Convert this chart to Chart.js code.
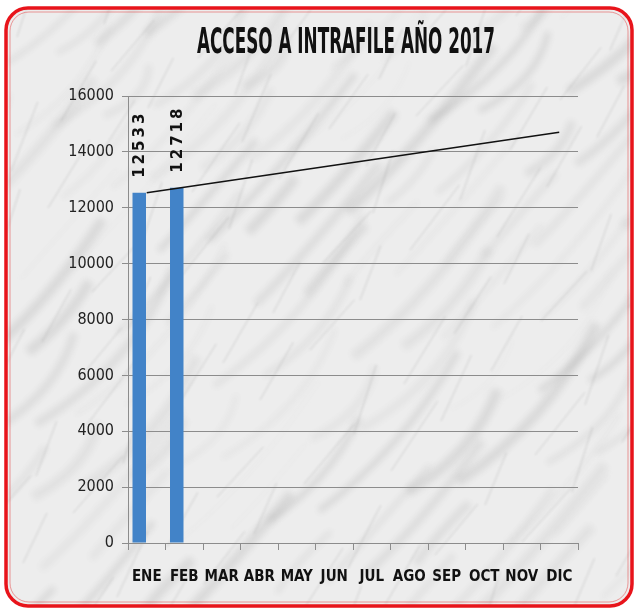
<!DOCTYPE html>
<html>
<head>
<meta charset="utf-8">
<script src="https://cdn.jsdelivr.net/npm/chart.js@4"></script>
<style>
  body { margin: 0; background: #fff; }
  #wrap { width: 638px; height: 613px; }
</style>
</head>
<body>
<div id="wrap"><canvas id="grafico" width="638" height="613"></canvas></div>
<script>
const meses = ["ENE", "FEB", "MAR", "ABR", "MAY", "JUN", "JUL", "AGO", "SEP", "OCT", "NOV", "DIC"];
const accesos = [12533, 12718];
const serieVacia = [];
const tendencia = [12533, null, null, null, null, null, null, null, null, null, null, 14700];
const yMin = 0, yMax = 16000, yPaso = 2000;
const titulo = "ACCESO A INTRAFILE AÑO 2017";

const narrow = "'DejaVu Sans Condensed', 'Liberation Sans Narrow', sans-serif";

function marco(ctx, x, y, w, h, r) {
    ctx.beginPath();
    ctx.moveTo(x + r, y);
    ctx.arcTo(x + w, y, x + w, y + h, r);
    ctx.arcTo(x + w, y + h, x, y + h, r);
    ctx.arcTo(x, y + h, x, y, r);
    ctx.arcTo(x, y, x + w, y, r);
    ctx.closePath();
}

// fondo tipo marmol + borde rojo
const fondo = {
    id: "fondo",
    beforeDraw(chart) {
        const ctx = chart.ctx;
        ctx.save();
        marco(ctx, 6, 8, 626, 598, 22);
        ctx.fillStyle = "#e6e6e6";
        ctx.fill();
        ctx.clip();
        ctx.filter = "blur(3px)";
        for (let i = 0; i < 110; i++) {
            const x0 = (i * 97) % 700 - 40;
            const y0 = (i * 53) % 660;
            const len = 60 + (i * 37) % 160;
            ctx.strokeStyle = "rgba(100,100,100," + (0.08 + ((i * 7) % 10) / 60) + ")";
            ctx.lineWidth = 2 + (i % 5) * 2;
            ctx.beginPath();
            ctx.moveTo(x0, y0);
            ctx.quadraticCurveTo(x0 + len * 0.4 + Math.sin(i) * 20, y0 - len * 0.3, x0 + len * 0.7, y0 - len * 0.8);
            ctx.stroke();
        }
        ctx.filter = "blur(0.8px)";
        for (let i = 0; i < 90; i++) {
            const x0 = (i * 131) % 680 - 20;
            const y0 = (i * 71) % 660;
            ctx.strokeStyle = "rgba(80,80,80,0.3)";
            ctx.lineWidth = 1;
            ctx.beginPath();
            ctx.moveTo(x0, y0);
            ctx.lineTo(x0 + 35 + Math.cos(i) * 15, y0 - 60 + Math.sin(i * 2) * 10);
            ctx.stroke();
        }
        ctx.filter = "none";
        ctx.fillStyle = "rgba(255,255,255,0.3)";
        ctx.fillRect(0, 0, 638, 613);
        ctx.restore();

        ctx.save();
        marco(ctx, 6, 8, 626, 598, 22);
        ctx.strokeStyle = "#e8141b";
        ctx.lineWidth = 3.5;
        ctx.stroke();
        marco(ctx, 10, 12, 618, 590, 19);
        ctx.strokeStyle = "rgba(230,60,60,0.5)";
        ctx.lineWidth = 1;
        ctx.stroke();
        ctx.restore();
    },
    afterDraw(chart) {
        const ctx = chart.ctx;
        ctx.save();
        ctx.font = "bold 36px " + narrow;
        ctx.fillStyle = "#111";
        ctx.textAlign = "center";
        ctx.textBaseline = "middle";
        const ancho = ctx.measureText(titulo).width;
        ctx.translate(346, 44);
        ctx.scale(298 / ancho, 1);
        ctx.fillText(titulo, 0, 0);
        ctx.restore();
    }
};

// etiquetas verticales sobre las barras
const etiquetas = {
    id: "etiquetas",
    afterDatasetsDraw(chart) {
        const ctx = chart.ctx;
        const meta = chart.getDatasetMeta(0);
        ctx.save();
        ctx.font = "bold 15px 'DejaVu Sans'";
        ctx.letterSpacing = "3px";
        ctx.fillStyle = "#111";
        ctx.textAlign = "left";
        ctx.textBaseline = "middle";
        meta.data.forEach((bar, i) => {
            ctx.save();
            ctx.translate(bar.x + 1, bar.y - 15);
            ctx.rotate(-Math.PI / 2);
            ctx.fillText(String(accesos[i]), 0, 0);
            ctx.restore();
        });
        ctx.restore();
    }
};

new Chart(document.getElementById("grafico"), {
    data: {
        labels: meses,
        datasets: [
            {
                type: "bar",
                data: accesos,
                backgroundColor: "#4283c8",
                barPercentage: 0.9,
                categoryPercentage: 0.8,
                order: 2
            },
            {
                type: "bar",
                data: serieVacia,
                backgroundColor: "#c0504d",
                barPercentage: 0.9,
                categoryPercentage: 0.8,
                order: 3
            },
            {
                type: "line",
                data: tendencia,
                spanGaps: true,
                borderColor: "#111",
                borderWidth: 1.5,
                pointRadius: 0,
                order: 1
            }
        ]
    },
    options: {
        responsive: false,
        animation: false,
        layout: { padding: { top: 96, right: 60, left: 0, bottom: 0 } },
        plugins: {
            legend: { display: false },
            tooltip: { enabled: false }
        },
        scales: {
            x: {
                grid: { drawOnChartArea: false, color: "#8c8c8c", tickLength: 7 },
                border: { color: "#8c8c8c" },
                ticks: {
                    color: "#111",
                    padding: 18,
                    maxRotation: 0,
                    autoSkip: false,
                    font: { family: narrow, size: 15, weight: "bold" }
                },
                afterFit(scale) { scale.height = 70; }
            },
            y: {
                min: yMin,
                max: yMax,
                ticks: {
                    stepSize: yPaso,
                    color: "#222",
                    padding: 8,
                    font: { family: narrow, size: 16 },
                    callback: v => String(v)
                },
                grid: { color: "#8c8c8c", tickLength: 6 },
                border: { color: "#8c8c8c" },
                afterFit(scale) { scale.width = 128; }
            }
        }
    },
    plugins: [fondo, etiquetas]
});
</script>
</body>
</html>
